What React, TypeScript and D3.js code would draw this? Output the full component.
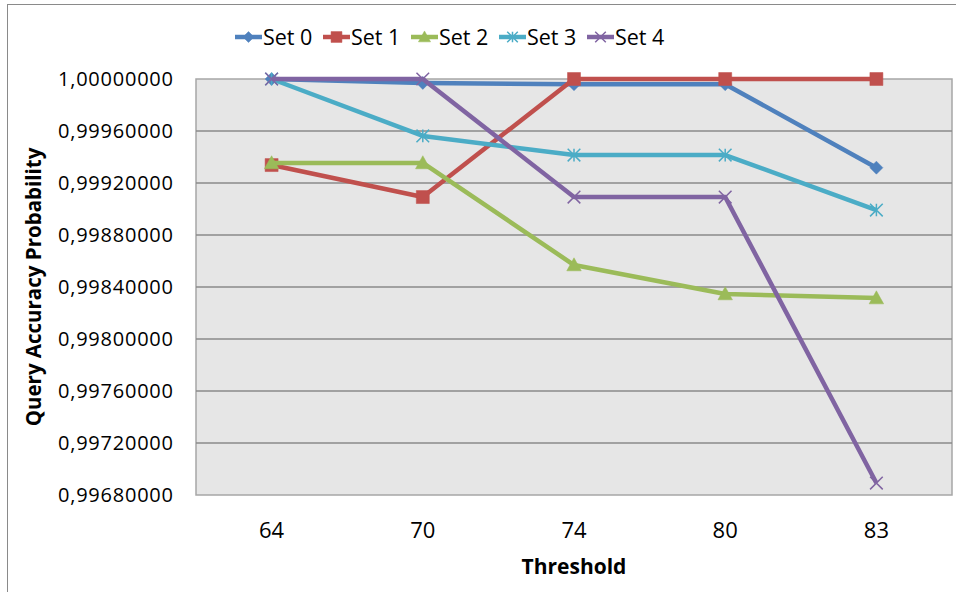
import React from 'react'
import { scalePoint, scaleLinear, line, symbol, formatLocale } from 'd3'

const thresholds = ['64', '70', '74', '80', '83']
const seriesNames = ['Set 0', 'Set 1', 'Set 2', 'Set 3', 'Set 4']
const set0 = [1.0, 0.99997, 0.99996, 0.99996, 0.999318]
const set1 = [0.999338, 0.999092, 1.0, 1.0, 1.0]
const set2 = [0.999354, 0.999354, 0.998569, 0.998346, 0.998315]
const set3 = [1.0, 0.999562, 0.999415, 0.999415, 0.998992]
const set4 = [1.0, 1.0, 0.999092, 0.999092, 0.996892]
const yTicks = [0.9968, 0.9972, 0.9976, 0.998, 0.9984, 0.9988, 0.9992, 0.9996, 1.0]

const COLORS = ['#4F81BD', '#C0504D', '#9BBB59', '#4BACC6', '#8064A2']
const FONT = "'Open Sans', 'Noto Sans', sans-serif"

const PLOT = { left: 196, right: 952, top: 79, bottom: 495 }

// marker shapes drawn like Excel 2007 default series markers
const starMarker = {
  draw(ctx: any, size: number) {
    const r = Math.sqrt(size) / 2
    ctx.moveTo(-r, -r); ctx.lineTo(r, r)
    ctx.moveTo(-r, r); ctx.lineTo(r, -r)
    ctx.moveTo(0, -r); ctx.lineTo(0, r)
  }
}
const xMarker = {
  draw(ctx: any, size: number) {
    const r = Math.sqrt(size) / 2
    ctx.moveTo(-r, -r); ctx.lineTo(r, r)
    ctx.moveTo(-r, r); ctx.lineTo(r, -r)
  }
}
const diamondMarker = {
  draw(ctx: any, size: number) {
    const r = Math.sqrt(size) / 2
    ctx.moveTo(0, -r); ctx.lineTo(r, 0); ctx.lineTo(0, r); ctx.lineTo(-r, 0); ctx.closePath()
  }
}
const squareMarker = {
  draw(ctx: any, size: number) {
    const r = Math.sqrt(size) / 2
    ctx.rect(-r, -r, 2 * r, 2 * r)
  }
}
const triMarker = {
  draw(ctx: any, size: number) {
    const r = Math.sqrt(size) / 2
    ctx.moveTo(0, -r); ctx.lineTo(r, r * 0.8); ctx.lineTo(-r, r * 0.8); ctx.closePath()
  }
}

const markers = [
  { type: diamondMarker, size: 169, filled: true },
  { type: squareMarker, size: 169, filled: true },
  { type: triMarker, size: 210, filled: true },
  { type: starMarker, size: 160, filled: false },
  { type: xMarker, size: 160, filled: false }
]

const fmt = formatLocale({ decimal: ',', thousands: '.', grouping: [3], currency: ['', ''] }).format('.8f')

const App: React.FC = () => {
  const width = 956
  const height = 592
  const data = [set0, set1, set2, set3, set4]

  const x = scalePoint<string>().domain(thresholds).range([PLOT.left, PLOT.right]).padding(0.5)
  const y = scaleLinear().domain([0.9968, 1.0]).range([PLOT.bottom, PLOT.top])

  const l = line<number>()
    .x((_, i) => x(thresholds[i]) as number)
    .y((d) => y(d))

  return (
    <svg width={width} height={height} style={{ position: 'absolute', left: 0, top: 0 }} fontFamily={FONT}>
      <rect x={0} y={0} width={width} height={height} fill="#fff" />
      <rect x={7.5} y={4.5} width={1000} height={700} fill="none" stroke="#8a8a8a" strokeWidth={1} />

      {/* plot area */}
      <rect
        x={PLOT.left}
        y={PLOT.top}
        width={PLOT.right - PLOT.left}
        height={PLOT.bottom - PLOT.top}
        fill="#e6e6e6"
        stroke="#a6a6a6"
        strokeWidth={1.5}
      />
      <g className="grid">
        {yTicks.slice(1, -1).map((t) => (
          <line key={t} x1={PLOT.left} x2={PLOT.right} y1={y(t)} y2={y(t)} stroke="#8a8a8a" strokeWidth={1.5} />
        ))}
      </g>

      <g className="y-axis">
        {yTicks.map((t) => (
          <text
            key={t}
            x={173}
            y={y(t)}
            dy="0.35em"
            textAnchor="end"
            fontSize={20}
            textLength={115}
            lengthAdjust="spacing"
            fill="#000"
          >
            {fmt(t)}
          </text>
        ))}
        <text
          transform={`translate(41, ${(PLOT.top + PLOT.bottom) / 2}) rotate(-90)`}
          textAnchor="middle"
          fontSize={20.5}
          fontWeight="bold"
          fill="#000"
        >
          Query Accuracy Probability
        </text>
      </g>

      <g className="x-axis">
        {thresholds.map((t) => (
          <text key={t} x={x(t)} y={530} dy="0.35em" textAnchor="middle" fontSize={22} fill="#000">
            {t}
          </text>
        ))}
        <text x={(PLOT.left + PLOT.right) / 2} y={574} textAnchor="middle" fontSize={21} fontWeight="bold" fill="#000">
          Threshold
        </text>
      </g>

      <g className="series">
        {data.map((vals, s) => {
          const m = markers[s]
          const p = symbol().type(m.type as any).size(m.size)() || ''
          return (
            <g key={s}>
              <path d={l(vals) || ''} fill="none" stroke={COLORS[s]} strokeWidth={4.5} strokeLinejoin="round" />
              {vals.map((v, i) => (
                <path
                  key={i}
                  transform={`translate(${x(thresholds[i])}, ${y(v)})`}
                  d={p}
                  fill={m.filled ? COLORS[s] : 'none'}
                  stroke={COLORS[s]}
                  strokeWidth={m.filled ? 0.5 : 1.5}
                />
              ))}
            </g>
          )
        })}
      </g>

      <g className="legend">
        {seriesNames.map((name, s) => {
          const x0 = 235 + s * 88
          const m = markers[s]
          const p = symbol().type(m.type as any).size(m.size * 0.7)() || ''
          return (
            <g key={name} transform={`translate(${x0}, 37)`}>
              <line x1={0} x2={27} y1={0} y2={0} stroke={COLORS[s]} strokeWidth={4.5} />
              <path
                transform="translate(13.5, 0)"
                d={p}
                fill={m.filled ? COLORS[s] : 'none'}
                stroke={COLORS[s]}
                strokeWidth={m.filled ? 0.5 : 1.5}
              />
              <text x={28} y={0} dy="0.35em" fontSize={21.5} fill="#000">
                {name}
              </text>
            </g>
          )
        })}
      </g>
    </svg>
  )
}

export default App
